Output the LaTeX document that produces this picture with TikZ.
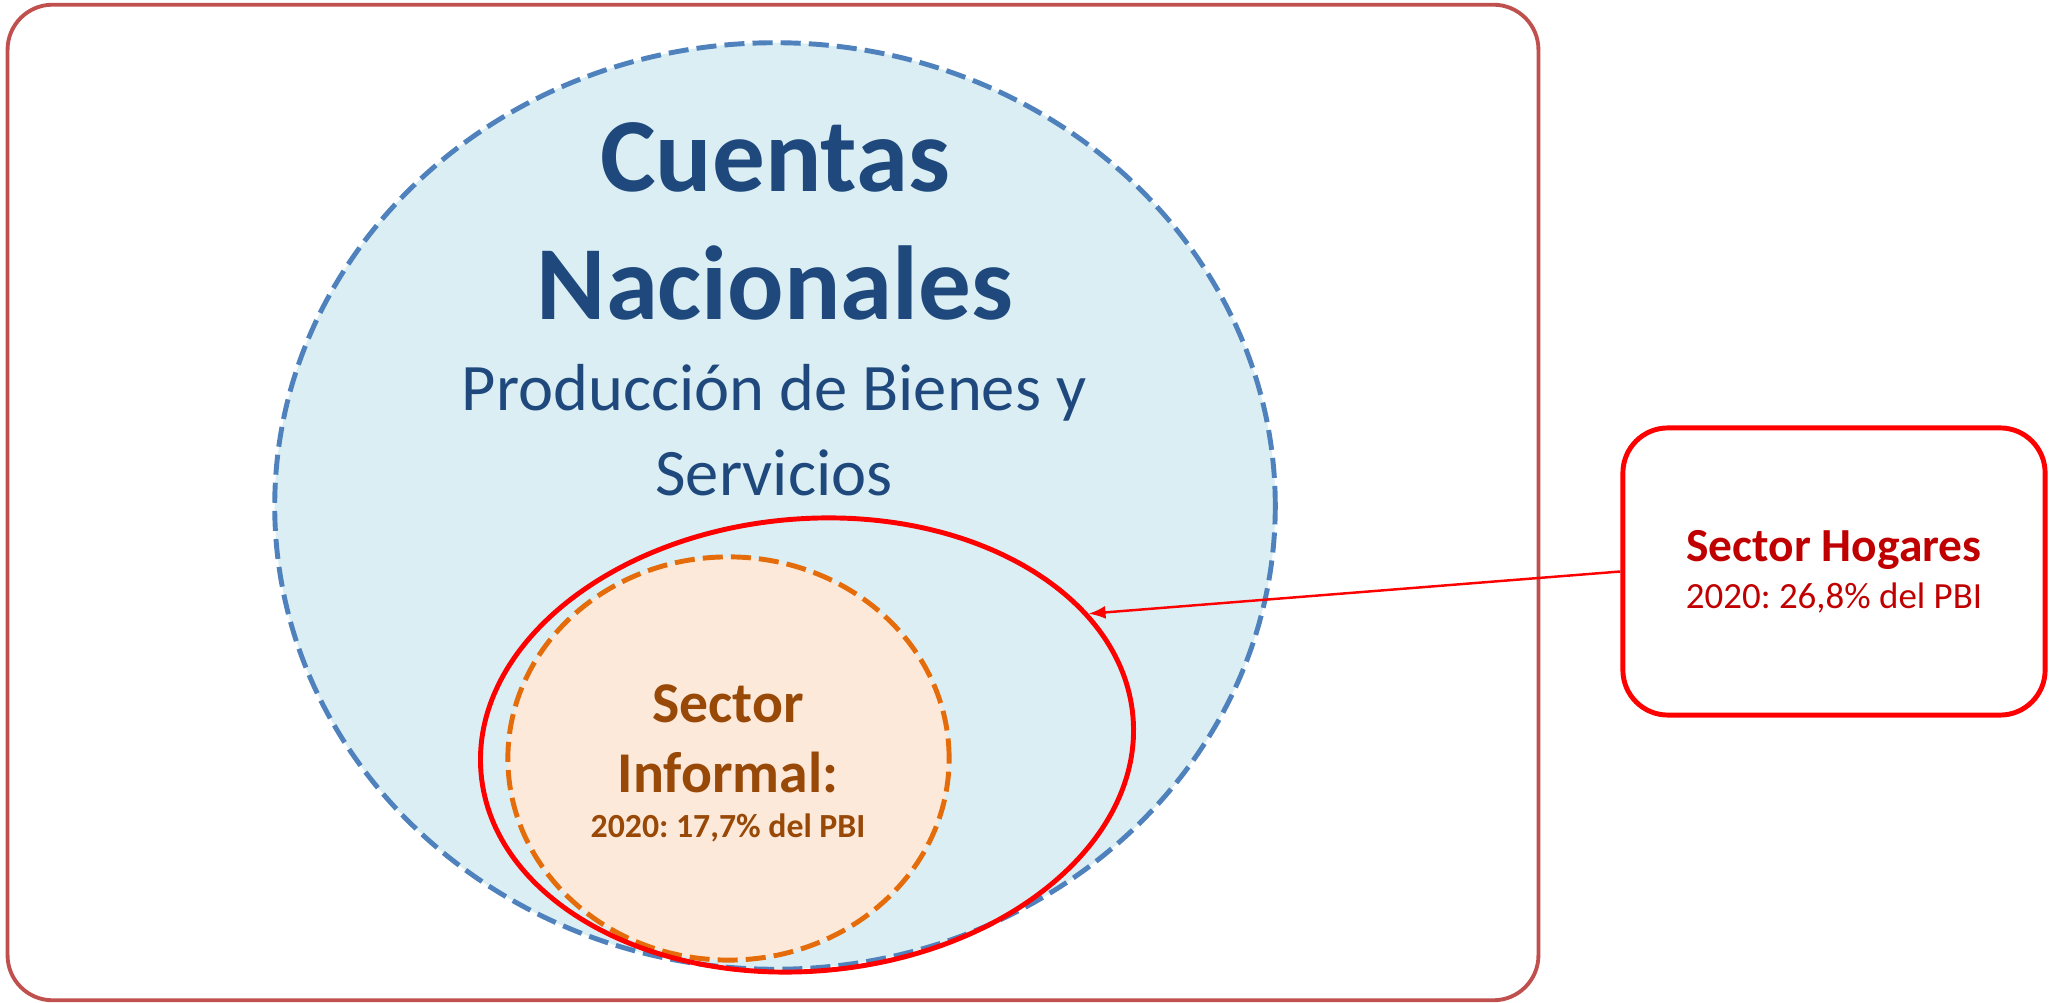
\documentclass[tikz,border=0pt]{standalone}
\usepackage{fontspec}
\setmainfont{Carlito}
\usetikzlibrary{shapes.geometric,arrows.meta}
\definecolor{marcorojo}{HTML}{C0504D}
\definecolor{azulborde}{HTML}{4F81BD}
\definecolor{azulfondo}{HTML}{DAEEF3}
\definecolor{azultexto}{HTML}{1F497D}
\definecolor{naranjaborde}{HTML}{E46C0A}
\definecolor{naranjafondo}{HTML}{FDE9D9}
\definecolor{marron}{HTML}{984807}
\definecolor{rojotexto}{HTML}{C00000}
\frenchspacing

\begin{document}
\begin{tikzpicture}[x=0.01cm,y=0.01cm,
  conjunto/.style={ellipse,inner sep=0pt},
  guiones/.style={dash pattern=on 5.7pt off 2.3pt}]
%\draw[help lines] (0,0) grid[step=100] (2057,1003);
\useasboundingbox (0,0) rectangle (2057,1003);

\node[draw=marcorojo,line width=1.1pt,rounded corners=0.45cm,
  minimum width=15.3cm,minimum height=9.95cm] (marco) at (773,500.5) {};

\node[conjunto,draw=azulborde,fill=azulfondo,line width=1.4pt,guiones,
  minimum width=10cm,minimum height=9.26cm] (cuentas) at (775,497) {};
\node[conjunto,draw=naranjaborde,fill=naranjafondo,line width=1.4pt,guiones,
  minimum width=4.41cm,minimum height=4.03cm] (informal) at (728.5,244.5) {};
\node[conjunto,draw=red,line width=1.4pt,rotate=5,
  minimum width=6.54cm,minimum height=4.52cm] (hogares) at (807,258) {};

\node[text=azultexto,font=\fontsize{29.9}{36.4}\selectfont\bfseries,align=center]
  (titulo) at (775,781.5) {Cuentas\\Nacionales};
\node[text=azultexto,font=\fontsize{18.9}{24.2}\selectfont,align=center]
  (produccion) at (774,572.5) {Producción de Bienes y\\Servicios};
\node[text=marron,font=\fontsize{16.4}{19.9}\selectfont\bfseries,align=center]
  (informaltxt) at (728,240)
  {Sector\\Informal:\\[-7.1pt]{\fontsize{9.6}{12.8}\selectfont 2020: 17,7\% del PBI}};

\node[draw=red,line width=1.4pt,rounded corners=0.45cm,
  minimum width=4.22cm,minimum height=2.87cm,align=center,text=rojotexto]
  (recuadro) at (1834,431.5)
  {{\fontsize{13.5}{16}\selectfont\bfseries Sector Hogares}\\[1.4pt]
   {\fontsize{10.5}{13.4}\selectfont 2020: 26,8\% del PBI}};

\draw[red,line width=0.7pt,-{Latex[length=0.17cm,width=0.13cm]}]
  (recuadro.west) -- (hogares.20);
\end{tikzpicture}
\end{document}
